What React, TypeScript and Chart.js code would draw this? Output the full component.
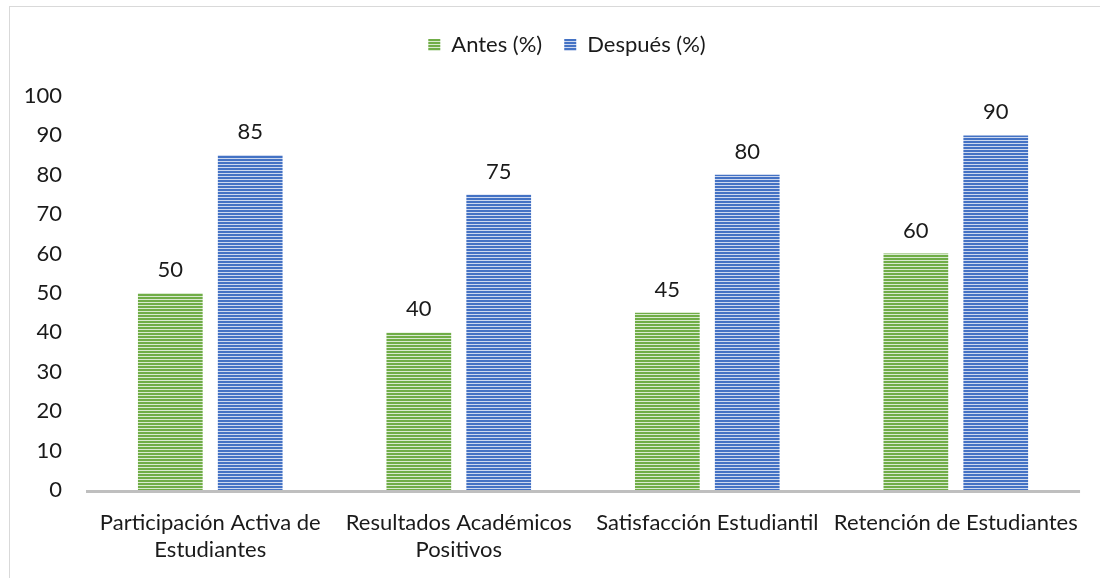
import React, { useEffect, useRef } from "react";
import { Chart, registerables } from "chart.js";
Chart.register(...registerables);

const categories: (string | string[])[] = [
  ["Participación Activa de", "Estudiantes"],
  ["Resultados Académicos", "Positivos"],
  "Satisfacción Estudiantil",
  "Retención de Estudiantes",
];
const antes = [50, 40, 45, 60];
const despues = [85, 75, 80, 90];
const yTicks = [0, 10, 20, 30, 40, 50, 60, 70, 80, 90, 100];
const seriesNames = ["Antes (%)", "Después (%)"];

const FONT = "Lato, 'Open Sans', sans-serif";
const TEXT = "#1a1a1a";
const FS = 22;

function stripes(dark: string, light: string): CanvasPattern | string {
  const c = document.createElement("canvas");
  c.width = 4;
  c.height = 3;
  const ctx = c.getContext("2d");
  if (!ctx) return dark;
  ctx.fillStyle = dark;
  ctx.fillRect(0, 0, 4, 2);
  ctx.fillStyle = light;
  ctx.fillRect(0, 2, 4, 1);
  return ctx.createPattern(c, "repeat") || dark;
}

const valueLabels = {
  id: "valueLabels",
  afterDatasetsDraw(chart: any) {
    const ctx = chart.ctx;
    ctx.save();
    ctx.font = `${FS}px ${FONT}`;
    ctx.fillStyle = TEXT;
    ctx.textAlign = "center";
    ctx.textBaseline = "middle";
    chart.data.datasets.forEach((ds: any, i: number) => {
      const meta = chart.getDatasetMeta(i);
      meta.data.forEach((bar: any, j: number) => {
        ctx.fillText(String(ds.data[j]), bar.x, bar.y - 23);
      });
    });
    ctx.restore();
  },
};

const axisLine = {
  id: "axisLine",
  afterDatasetsDraw(chart: any) {
    const { ctx, chartArea } = chart;
    const y = chart.scales.y.getPixelForValue(0);
    ctx.save();
    ctx.strokeStyle = "#bfbfbf";
    ctx.lineWidth = 3;
    ctx.beginPath();
    ctx.moveTo(chartArea.left, y + 1.5);
    ctx.lineTo(chartArea.right, y + 1.5);
    ctx.stroke();
    ctx.restore();
  },
};

const legendSpacing = {
  id: "legendSpacing",
  beforeInit(chart: any) {
    const orig = chart.legend.fit;
    chart.legend.fit = function () {
      orig.bind(this)();
      this.height += 30;
    };
  },
  afterLayout(chart: any) {
    if (chart.legend) {
      chart.legend.left += 26;
      chart.legend.right += 26;
    }
  },
};

export default function App() {
  const ref = useRef<HTMLCanvasElement>(null);
  useEffect(() => {
    if (!ref.current) return;
    const green = stripes("#70AD47", "#d9ead0");
    const blue = stripes("#4472C4", "#cdd8ef");
    const chart = new Chart(ref.current, {
      type: "bar",
      data: {
        labels: categories,
        datasets: [
          { label: seriesNames[0], data: antes, backgroundColor: green as any, borderWidth: 0 },
          { label: seriesNames[1], data: despues, backgroundColor: blue as any, borderWidth: 0 },
        ],
      },
      options: {
        animation: false,
        responsive: false,
        maintainAspectRatio: false,
        layout: { padding: { left: 0, right: 18, top: 12, bottom: 0 } },
        datasets: { bar: { categoryPercentage: 0.643, barPercentage: 0.81 } },
        plugins: {
          legend: {
            position: "top",
            labels: {
              font: { family: FONT, size: FS },
              color: TEXT,
              boxWidth: 12,
              boxHeight: 12,
              padding: 22,
            },
          },
          tooltip: { enabled: false },
        },
        scales: {
          x: {
            grid: { display: false, drawTicks: false },
            border: { display: false },
            ticks: {
              font: { family: FONT, size: FS },
              color: TEXT,
              padding: 20,
              maxRotation: 0,
              autoSkip: false,
            },
            afterFit(s: any) {
              s.height = 88;
            },
          },
          y: {
            min: 0,
            max: 100,
            afterBuildTicks(s: any) {
              s.ticks = yTicks.map((v) => ({ value: v }));
            },
            grid: { display: false, drawTicks: false },
            border: { display: false },
            ticks: {
              font: { family: FONT, size: FS },
              color: TEXT,
              padding: 24,
            },
            afterFit(s: any) {
              s.width = 86;
            },
          },
        },
      },
      plugins: [valueLabels, axisLine, legendSpacing],
    });
    return () => chart.destroy();
  }, []);
  return (
    <div style={{ position: "fixed", left: 0, top: 0, width: 1100, height: 578, background: "#fff" }}>
      <div
        style={{
          position: "absolute",
          left: 9,
          top: 6,
          width: 1200,
          height: 700,
          borderTop: "1px solid #d9d9d9",
          borderLeft: "1px solid #d9d9d9",
        }}
      />
      <canvas ref={ref} width={1100} height={578} style={{ position: "absolute", left: 0, top: 0 }} />
    </div>
  );
}
